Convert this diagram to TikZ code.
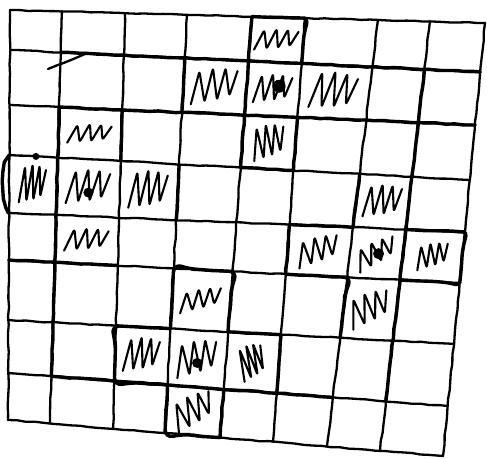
\documentclass[tikz,border=0pt]{standalone}
\usetikzlibrary{calc, decorations.pathmorphing}

\begin{document}
\begin{tikzpicture}[
    x=1pt, y=-1pt,
    ink/.style={line width=2.3pt, line cap=round, line join=round, decorate,
        decoration={random steps, segment length=9pt, amplitude=0.5pt}},
    heavy/.style={ink, line width=3.4pt},
    scribble/.style={line width=2.1pt, line cap=round, line join=round, rounded corners=2.5pt}
]
    \pgfmathsetseed{7}
    \useasboundingbox (0,0) rectangle (487,458);

    % column lines: top and bottom ends
    \foreach \i/\xt/\yt/\xb/\yb in {0/10/10/8/420, 1/62/11/50/423, 2/125/13/113/429,
        3/187/15/165/433, 4/252/17/220/438, 5/305/18/273/442, 6/378/20/327/446,
        7/430/21/380/451, 8/485/23/443/456}
        {\coordinate (t\i) at (\xt,\yt); \coordinate (\i b) at (\xb,\yb);}
    % row lines: left and right ends
    \foreach \j/\xl/\yl/\xr/\yr in {0/10/10/485/23, 1/10/50/480/72, 2/10/105/475/125,
        3/9/155/470/180, 4/9/213/465/232, 5/9/260/460/283, 6/8/320/454/344,
        7/8/373/448/406, 8/8/420/443/456}
        {\coordinate (l\j) at (\xl,\yl); \coordinate (r\j) at (\xr,\yr);}
    \foreach \i in {0,...,8}
        \foreach \j in {0,...,8}
            \coordinate (p-\i-\j) at (intersection of t\i--\i b and l\j--r\j);

    % the grid
    \foreach \i in {0,...,8} \draw[ink] (t\i) -- (\i b);
    \foreach \j in {0,...,8} \draw[ink] (l\j) -- (r\j);

    % hatched cells: column/row/rotation/xscale/yscale
    \foreach \c/\r/\a/\w/\s in {4/0/0/0.9/0.55, 3/1/5/1/0.9, 4/1/0/0.8/0.75, 5/1/-5/0.95/1, 4/2/10/0.7/0.9,
        1/2/0/0.9/0.5, 0/3/0/0.55/1, 1/3/0/0.9/0.9, 2/3/0/0.8/1, 1/4/0/0.9/0.6,
        6/3/0/0.8/0.85, 5/4/15/0.9/0.7, 6/4/25/0.9/0.6, 7/4/10/0.7/0.65, 6/5/20/0.9/0.8,
        3/5/10/0.9/0.55, 2/6/0/0.75/0.9, 3/6/10/0.9/0.9, 4/6/20/0.55/0.9, 3/7/25/0.9/0.8} {
        \pgfmathtruncatemacro\cc{\c+1}
        \pgfmathtruncatemacro\rr{\r+1}
        \coordinate (h-\c-\r) at ($(p-\c-\r)!0.5!(p-\cc-\rr)$);
        \draw[scribble, shift={(h-\c-\r)}, scale=1.15, rotate=\a, xscale=\w, yscale=\s]
            (-22,15) -- (-12,-16) -- (-10,14) -- (0,-18) -- (1,13) -- (11,-17) -- (12,10) -- (21,-13);
    }

    % dots at the centres
    \fill ($(h-4-1)+(6,-3)$) circle[radius=6.5pt];
    \fill ($(h-1-3)+(0,5)$) circle[radius=5pt];
    \fill ($(h-6-4)+(2,0)$) circle[radius=5.5pt];
    \fill ($(h-3-6)+(0,4)$) circle[radius=5pt];

    % heavy strokes
    \draw[heavy] (p-1-1) -- (p-8-1);
    \draw[heavy] (p-1-2) -- (p-8-2);
    \draw[heavy] (p-7-1) -- (p-7-7);
    \draw[heavy] (p-1-2) -- (p-1-7);
    \draw[heavy] (p-1-7) -- (p-6-7);
    \draw[ink] (48,69) -- (85,54);
    % cross at the top
    \draw[heavy] (p-4-0) -- (p-4-3);
    \draw[heavy, rounded corners=6pt] (p-4-0) -- (p-5-0) -- (p-5-1);
    \draw[heavy] (p-3-1) -- (p-3-2);
    \draw[heavy] (p-5-2) -- (p-5-3) -- (p-4-3);
    % cross on the left
    \draw[heavy] (p-0-3) .. controls +(-8,12) and +(-8,-12) .. (p-0-4);
    \fill ($(p-0-3)!0.55!(p-1-3)$) circle[radius=3.5pt];
    \draw[heavy] (p-2-2) -- (p-2-3);
    \draw[heavy] (p-3-3) -- (p-3-4);
    \draw[heavy] (p-0-5) -- (p-2-5);
    % cross on the right
    \draw[heavy, rounded corners=4pt] (p-7-4) -- (p-8-4) -- (p-8-5) -- (p-7-5);
    \draw[heavy] (p-6-3) -- (p-6-4);
    \draw[heavy] (p-5-4) -- (p-5-5);
    \draw[heavy] (p-5-4) -- (p-6-4);
    \draw[heavy, rounded corners=8pt] (p-5-5) -- (p-6-5) -- (p-6-6);
    % cross at the bottom
    \draw[heavy, rounded corners=8pt] (p-3-6) -- (p-2-6) -- (p-2-7) -- (p-3-7);
    \draw[heavy, rounded corners=8pt] (p-3-6) -- (p-3-5) -- (p-4-5) -- (p-4-6);
    \draw[heavy, rounded corners=8pt] (p-3-7) -- (p-3-8) -- (p-4-8);
    \draw[heavy] (p-4-6) -- (p-5-6) -- (p-5-7);
    \draw[heavy] (p-4-7) -- (p-4-8);
\end{tikzpicture}
\end{document}
